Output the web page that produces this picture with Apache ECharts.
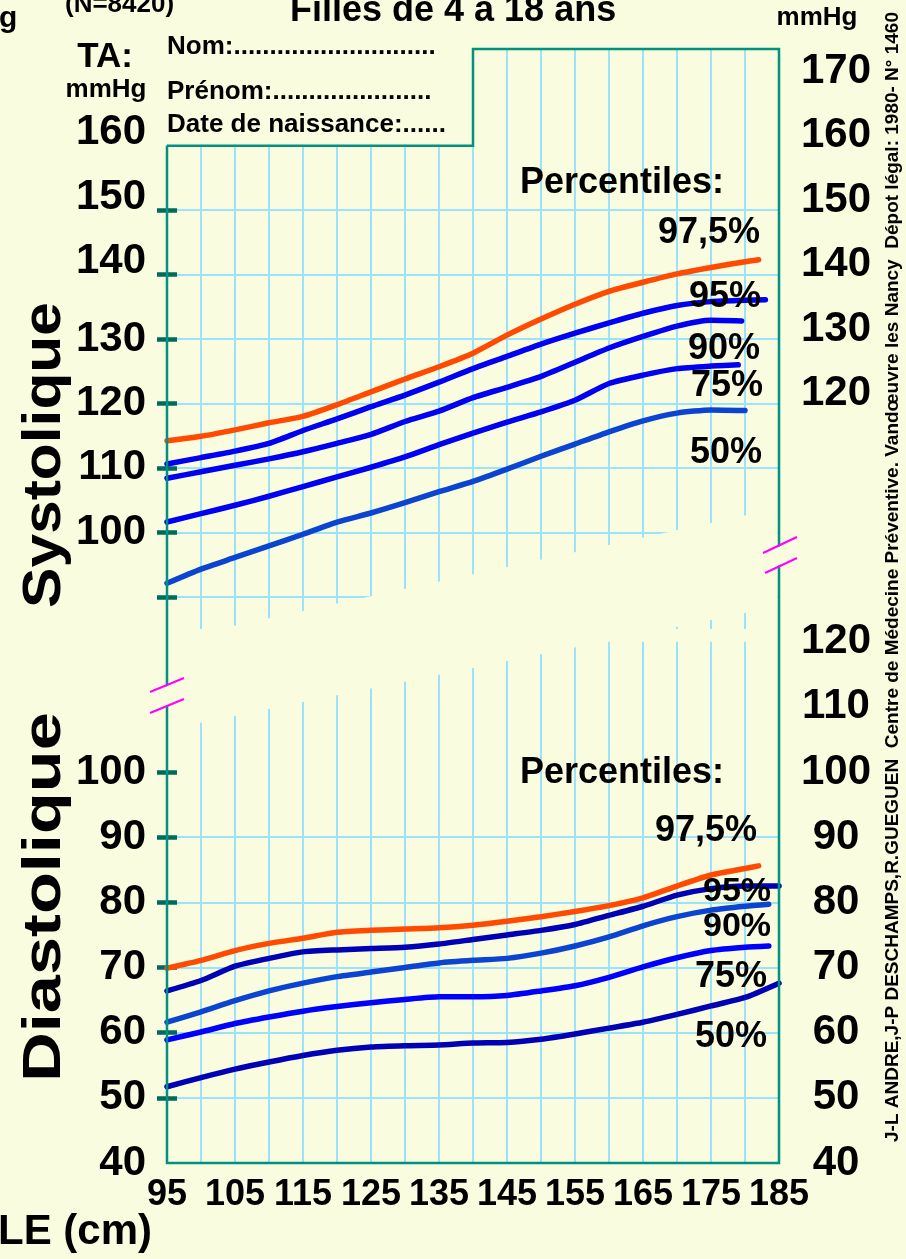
<!DOCTYPE html>
<html><head><meta charset="utf-8">
<script src="https://cdn.jsdelivr.net/npm/echarts@6/dist/echarts.min.js"></script>
<style>html,body{margin:0;padding:0;background:#F9FCDF;}#c{width:906px;height:1259px;}</style>
</head><body><div id="c"></div>
<script>
// ---------- DATA ----------
const tailleCm = [95,100,105,110,115,120,125,130,135,140,145,150,155,160,165,170,175,180];
// Systolique (mmHg) – last value of some series sits at the series' own end height
const sysP975 = [114.2,114.9,115.9,117.0,118.0,119.8,121.8,123.8,125.7,127.8,130.6,133.1,135.4,137.4,138.8,140.1,141.1,142.0,142.3];
const sysP975End = 182;
const sysP95  = [110.6,111.6,112.6,113.8,115.8,117.6,119.5,121.3,123.3,125.4,127.3,129.2,130.9,132.5,134.0,135.2,135.8,136.0,136.1];
const sysP95End = 183;
const sysP90  = [108.4,109.4,110.4,111.4,112.5,113.8,115.2,117.2,118.8,120.9,122.5,124.2,126.4,128.6,130.4,132.0,132.9,132.8];
const sysP90End = 179.5;
const sysP75  = [101.6,102.9,104.2,105.6,107.1,108.6,110.1,111.7,113.6,115.4,117.1,118.7,120.5,123.1,124.4,125.4,125.8,126.0];
const sysP75End = 179;
const sysP50  = [92.1,94.3,96.1,97.9,99.7,101.6,103.0,104.6,106.3,107.9,109.8,111.8,113.7,115.6,117.3,118.5,119.0,118.9];
// Diastolique (mmHg)
const diaP975 = [69.9,71.1,72.6,73.7,74.5,75.4,75.7,75.9,76.1,76.5,77.1,77.8,78.6,79.5,80.7,82.5,84.2,85.2,85.6];
const diaP975End = 182;
const diaP95  = [66.4,68.0,70.2,71.4,72.4,72.7,72.9,73.1,73.6,74.3,75.0,75.7,76.6,78.0,79.4,81.1,82.1,82.5,82.5];
const diaP95End = 185;
const diaP90  = [61.6,63.2,64.9,66.4,67.6,68.6,69.3,70.0,70.7,71.1,71.4,72.2,73.3,74.7,76.4,77.8,78.8,79.4,79.7];
const diaP90End = 183.5;
const diaP75  = [58.9,60.1,61.4,62.4,63.3,64.0,64.6,65.1,65.5,65.5,65.7,66.4,67.2,68.5,70.1,71.5,72.6,73.1,73.3];
const diaP75End = 183.5;
const diaP50  = [51.7,53.1,54.4,55.5,56.5,57.3,57.8,58.0,58.1,58.4,58.5,59.0,59.8,60.7,61.6,62.8,64.1,65.4,67.6];
const diaP50End = 185;

// tick labels
const xTickLabels = [95,105,115,125,135,145,155,165,175,185];
const sysLeftLabels = [100,110,120,130,140,150,160];
const sysLeftTicks = [90,100,110,120,130,140,150];
const sysRightLabels = [120,130,140,150,160,170];
const diaLeftLabels = [40,50,60,70,80,90,100];
const diaLeftTicks = [50,60,70,80,90,100];
const diaRightLabels = [40,50,60,70,80,90,100,110,120];
const percentLabels = ['97,5%','95%','90%','75%','50%'];

// ---------- LAYOUT / STYLE ----------
const FONT = '"Liberation Sans", Arial, sans-serif';
const BG = '#F9FCDF', GRIDC = '#9BE2FD', BORDER = '#00917F', TICKC = '#006A5E';
const ORANGE = '#FF4A00', MAGENTA = '#FF00FF';
const X_MIN = 95, X_MAX = 185, SYS_MIN = 85, SYS_MAX = 175, DIA_MIN = 40, DIA_MAX = 120;
const PL = 167, PR = 779, SYS_TOP = 49, SYS_BOT = 629, DIA_BOT = 1163;
const DIA_PX = 391 / 60;
const DIA_TOP = DIA_BOT - (DIA_MAX - DIA_MIN) * DIA_PX;
const xPix = v => PL + (v - X_MIN) / (X_MAX - X_MIN) * (PR - PL);
const sysPix = v => SYS_TOP + (SYS_MAX - v) / (SYS_MAX - SYS_MIN) * (SYS_BOT - SYS_TOP);
const stepX = xPix(140), stepY = sysPix(160);
const tearUpper = x => 640 - 0.215 * (x - PL);
const tearLower = x => 729 - 0.2 * (x - PL);

function pairs(values, endX) {
  const xs = tailleCm.slice(0, endX == null ? values.length : values.length - 1);
  if (endX != null) xs.push(endX);
  return values.map((v, i) => [xs[i], v]);
}
function line(name, data, color, axisIdx, z) {
  return { type: 'line', name, data, xAxisIndex: axisIdx[0], yAxisIndex: axisIdx[1], z,
    showSymbol: false, smooth: 0.2, silent: true, animation: false,
    lineStyle: { color, width: 5.5, cap: 'round', join: 'round' } };
}
const lbl = (size, extra) => Object.assign({ color: '#000', fontFamily: FONT, fontWeight: 'bold', fontSize: size }, extra || {});
function yAxisBase(grid, min, max, z) {
  return { type: 'value', gridIndex: grid, min, max, interval: 5, z,
    axisLine: { show: false }, splitLine: { show: false }, axisTick: { show: false }, axisLabel: { show: false } };
}
const splitLn = { show: true, lineStyle: { color: GRIDC, width: 2 } };
const tickStyle = { color: TICKC, width: 4.5 };

const yAxes = [];
// 0 systolic left (labels + outer ticks + grid)
yAxes.push(Object.assign(yAxisBase(0, SYS_MIN, SYS_MAX, 4), {
  position: 'left', splitLine: splitLn,
  axisTick: { show: true, customValues: sysLeftTicks, length: 10, lineStyle: tickStyle },
  axisLabel: Object.assign(lbl(42), { show: true, customValues: sysLeftLabels, margin: 21,
    formatter: v => v >= 140 ? '{u|' + v + '}' : '{n|' + v + '}',
    rich: { u: lbl(42, { padding: [0, 0, 26, 0] }), n: lbl(42) } })
}));
// 1 systolic inner ticks
yAxes.push(Object.assign(yAxisBase(0, SYS_MIN, SYS_MAX, 4), {
  position: 'left',
  axisTick: { show: true, inside: true, customValues: sysLeftTicks, length: 10, lineStyle: tickStyle }
}));
// 2 systolic right labels
yAxes.push(Object.assign(yAxisBase(0, SYS_MIN, SYS_MAX, 4), {
  position: 'right',
  axisLabel: Object.assign(lbl(42), { show: true, customValues: sysRightLabels, margin: 57, align: 'center',
    formatter: v => '{u|' + v + '}', rich: { u: lbl(42, { padding: [0, 0, 20, 0] }) } })
}));
// 3 diastolic left
yAxes.push(Object.assign(yAxisBase(1, DIA_MIN, DIA_MAX, 1), {
  position: 'left', splitLine: { show: true, showMaxLine: false, lineStyle: { color: GRIDC, width: 2 } },
  axisTick: { show: true, customValues: diaLeftTicks, length: 10, lineStyle: tickStyle },
  axisLabel: Object.assign(lbl(42), { show: true, customValues: diaLeftLabels, margin: 21 })
}));
// 4 diastolic inner ticks
yAxes.push(Object.assign(yAxisBase(1, DIA_MIN, DIA_MAX, 1), {
  position: 'left',
  axisTick: { show: true, inside: true, customValues: diaLeftTicks, length: 10, lineStyle: tickStyle }
}));
// 5 diastolic right
yAxes.push(Object.assign(yAxisBase(1, DIA_MIN, DIA_MAX, 1), {
  position: 'right',
  axisLabel: Object.assign(lbl(42), { show: true, customValues: diaRightLabels, margin: 57, align: 'center' })
}));

const series = [
  line('Sys 97,5%', pairs(sysP975, sysP975End), ORANGE, [0, 0], 5),
  line('Sys 95%', pairs(sysP95, sysP95End), '#0000F2', [0, 0], 5),
  line('Sys 90%', pairs(sysP90, sysP90End), '#0000F2', [0, 0], 5),
  line('Sys 75%', pairs(sysP75, sysP75End), '#0000F2', [0, 0], 5),
  line('Sys 50%', pairs(sysP50), '#0A44D0', [0, 0], 5),
  line('Dia 97,5%', pairs(diaP975, diaP975End), ORANGE, [1, 3], 2),
  line('Dia 95%', pairs(diaP95, diaP95End), '#0000B4', [1, 3], 2),
  line('Dia 90%', pairs(diaP90, diaP90End), '#0A44D0', [1, 3], 2),
  line('Dia 75%', pairs(diaP75, diaP75End), '#0000FF', [1, 3], 2),
  line('Dia 50%', pairs(diaP50, diaP50End), '#0000B4', [1, 3], 2)
];

function text(t, x, y, size, align, extra) {
  return Object.assign({ type: 'text', x, y, z: 12, silent: true,
    style: { text: t, fill: '#000', font: 'bold ' + size + 'px ' + FONT, align: align || 'center', verticalAlign: 'middle' } }, extra || {});
}
const graphics = [
  // mask hiding diastolic grid above the tear
  { type: 'polygon', z: 3, silent: true, shape: { points: [[PL + 1.5, 560], [PR - 1.5, 560], [PR - 1.5, tearLower(PR)], [PL + 1.5, tearLower(PL)]] }, style: { fill: BG } },
  // tear band
  { type: 'polygon', z: 6, silent: true, shape: { points: [[PL + 1.5, tearUpper(PL)], [PR - 1.5, tearUpper(PR)], [PR - 1.5, tearLower(PR)], [PL + 1.5, tearLower(PL)]] }, style: { fill: BG } },
  // header area (no grid)
  { type: 'rect', z: 6, silent: true, shape: { x: 158, y: 0, width: stepX - 1.5 - 158, height: stepY - 1 }, style: { fill: BG } },
  // border
  { type: 'polyline', z: 10, silent: true, shape: { points: [[PL, stepY], [stepX, stepY], [stepX, SYS_TOP], [PR, SYS_TOP], [PR, DIA_BOT], [PL, DIA_BOT], [PL, stepY]] },
    style: { stroke: BORDER, lineWidth: 2.5, fill: null } },
  // break gaps + marks
  { type: 'polygon', z: 11, silent: true, shape: { points: [[153, 692], [182, 680], [182, 699], [153, 711]] }, style: { fill: BG } },
  { type: 'polygon', z: 11, silent: true, shape: { points: [[766, 553], [795, 539], [795, 558], [766, 571]] }, style: { fill: BG } },
  { type: 'line', z: 12, silent: true, shape: { x1: 150, y1: 692, x2: 184, y2: 678 }, style: { stroke: MAGENTA, lineWidth: 2 } },
  { type: 'line', z: 12, silent: true, shape: { x1: 150, y1: 713, x2: 184, y2: 699 }, style: { stroke: MAGENTA, lineWidth: 2 } },
  { type: 'line', z: 12, silent: true, shape: { x1: 763, y1: 553, x2: 797, y2: 537 }, style: { stroke: MAGENTA, lineWidth: 2 } },
  { type: 'line', z: 12, silent: true, shape: { x1: 765, y1: 573, x2: 797, y2: 558 }, style: { stroke: MAGENTA, lineWidth: 2 } },
  // header texts
  text('g', -1, 19, 30, 'left'),
  text('(N=8420)', 65, 5, 26, 'left'),
  text('Filles de 4 a 18 ans', 290, 11, 36, 'left'),
  text('mmHg', 817, 18, 26),
  text('TA:', 105, 57, 35),
  text('mmHg', 106, 90, 26),
  text('Nom:............................', 167, 47, 26, 'left'),
  text('Prénom:......................', 167, 92, 26, 'left'),
  text('Date de naissance:......', 167, 125, 26, 'left'),
  // panel titles
  text('Systolique', 45, 455, 54, 'center', { rotation: Math.PI / 2, scaleX: 1.12 }),
  text('Diastolique', 45, 897, 54, 'center', { rotation: Math.PI / 2, scaleX: 1.27 }),
  // percentile labels systolic
  text('Percentiles:', 622, 183, 36),
  text(percentLabels[0], 709, 233, 36),
  text(percentLabels[1], 725, 297, 36),
  text(percentLabels[2], 724, 349, 36),
  text(percentLabels[3], 727, 386, 36),
  text(percentLabels[4], 726, 453, 36),
  // percentile labels diastolic
  text('Percentiles:', 622, 773, 36),
  text(percentLabels[0], 706, 831, 36),
  text(percentLabels[1], 737, 892, 34),
  text(percentLabels[2], 737, 927, 34),
  text(percentLabels[3], 731, 977, 36),
  text(percentLabels[4], 731, 1037, 36),
  // x axis title (cut at the left edge)
  text('LE (cm)', -2, 1232, 42, 'left'),
  // credits
  text('J-L ANDRE,J-P DESCHAMPS,R.GUEGUEN  Centre de Médecine Préventive. Vandœuvre les Nancy  Dépot légal: 1980- N° 1460',
    893, 1142, 19, 'left', { rotation: Math.PI / 2 })
];

const chart = echarts.init(document.getElementById('c'), null, { renderer: 'canvas', width: 906, height: 1259 });
chart.setOption({
  animation: false,
  backgroundColor: BG,
  textStyle: { fontFamily: FONT },
  grid: [
    { left: PL, top: SYS_TOP, width: PR - PL, height: SYS_BOT - SYS_TOP },
    { left: PL, top: DIA_TOP, width: PR - PL, height: DIA_BOT - DIA_TOP }
  ],
  xAxis: [
    { type: 'value', gridIndex: 0, min: X_MIN, max: X_MAX, interval: 5, position: 'top', z: 4,
      axisLine: { show: false }, axisTick: { show: false }, axisLabel: { show: false }, splitLine: splitLn },
    { type: 'value', gridIndex: 1, min: X_MIN, max: X_MAX, interval: 5, position: 'bottom', z: 1,
      axisLine: { show: false }, axisTick: { show: false }, splitLine: splitLn,
      axisLabel: Object.assign(lbl(36), { customValues: xTickLabels, margin: 14 }) }
  ],
  yAxis: yAxes,
  series,
  graphic: { elements: graphics }
});
</script></body></html>
